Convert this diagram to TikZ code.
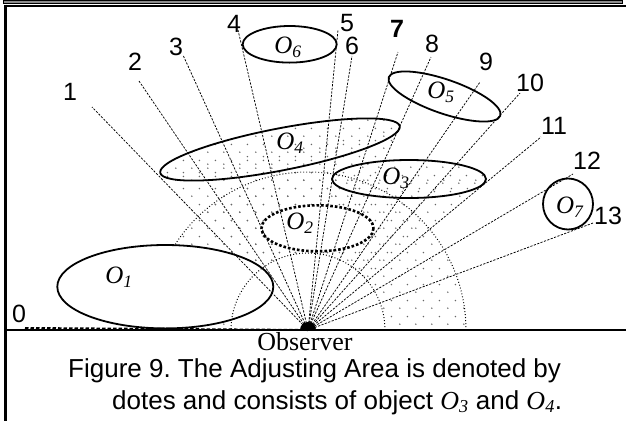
\documentclass[tikz,border=0pt]{standalone}
\usepackage{fontspec}
\setmainfont{Liberation Serif}
\newfontfamily\arialf{Liberation Sans}
\usetikzlibrary{patterns}
\pgfdeclarepatternformonly{adjdots}{\pgfpointorigin}{\pgfqpoint{15.6pt}{15.6pt}}{\pgfqpoint{15.6pt}{15.6pt}}{\pgfpathcircle{\pgfqpoint{3.9pt}{3.9pt}}{0.85pt}\pgfpathcircle{\pgfqpoint{11.7pt}{11.7pt}}{0.85pt}\pgfusepath{fill}}
\newcommand\objl[1]{\textit{O}\textsubscript{\textit{#1}}}
\frenchspacing
\begin{document}
\begin{tikzpicture}[x=1pt,y=-1pt,
  dotfill/.style={pattern=adjdots,pattern color=black!60},
  ray/.style={line width=0.75pt,dash pattern=on 2.2pt off 1.4pt},
  arcline/.style={line width=1pt,dash pattern=on 0.9pt off 2.1pt},
  objline/.style={line width=1.8pt},
  numlab/.style={inner sep=0pt,font=\arialf\fontsize{25}{30}\selectfont},
  objlab/.style={inner sep=0pt,font=\fontsize{25}{30}\selectfont}]
\useasboundingbox (0,0) rectangle (626,421);
\coordinate (obs) at (308,330);
% adjusting area (dots)
\fill[dotfill] (308,330) ++(158,0) arc[start angle=0,end angle=-180,radius=158] -- ++(81,0) arc[start angle=-180,end angle=0,radius=77] -- cycle;
\fill[dotfill] (308,330) -- (160,172) -- (400,127) -- cycle;
\fill[dotfill,rotate around={11:(280,149.5)}] (280,149.5) ellipse[x radius=122,y radius=21];
\fill[dotfill] (308,330) -- (332,179) -- (486,179) -- cycle;
\fill[dotfill] (409,179) ellipse[x radius=77,y radius=19];
% blank parts
\fill[white] (308,330) ++(77,0) arc[start angle=0,end angle=-180,radius=77] -- cycle;
\fill[white] (165.3,286.7) ellipse[x radius=108,y radius=41.7];
\fill[white] (317.5,228.3) ellipse[x radius=56,y radius=23];
% arcs
\draw[arcline] (308,330) ++(77,0) arc[start angle=0,end angle=-180,radius=77];
\draw[arcline] (308,330) ++(158,0) arc[start angle=0,end angle=-147,radius=158];
% ray ends
\coordinate (r1) at (92,107);
\coordinate (r2) at (139,81);
\coordinate (r3) at (183,55);
\coordinate (r4) at (238,30);
\coordinate (r5) at (338,30);
\coordinate (r6) at (352,56);
\coordinate (r7) at (398,52);
\coordinate (r8) at (431,57);
\coordinate (r9) at (480,82);
\coordinate (r10) at (520,93);
\coordinate (r11) at (541,137);
\coordinate (r12) at (573,174);
\coordinate (r13) at (593,223);
\coordinate (r0) at (25,328);
\foreach \i in {1,...,13} \draw[ray] (obs) -- (r\i);
% objects
\draw[objline] (165.3,286.7) ellipse[x radius=108,y radius=41.7];
\draw[line width=2.6pt,dash pattern=on 2.6pt off 2pt] (317.5,228.3) ellipse[x radius=56,y radius=23];
\draw[objline] (409,179) ellipse[x radius=77,y radius=19];
\draw[objline,rotate around={11:(280,149.5)}] (280,149.5) ellipse[x radius=122,y radius=21];
\draw[objline,rotate around={-19:(444.5,96.5)}] (444.5,96.5) ellipse[x radius=59,y radius=17];
\draw[objline] (289.7,44.3) ellipse[x radius=47,y radius=18.3];
\draw[objline] (568,204) ellipse[x radius=25,y radius=25.5];
% frame
\draw[line width=0.7pt,fill=black!45] (3.3,0.35) rectangle (622.7,3);
\draw[line width=2.7pt] (4,6) -- (626,6);
\draw[line width=2.7pt] (5.4,4.7) -- (5.4,421);
\draw[line width=1.4pt] (5,330) -- (626,330);
\draw[line width=2pt,dash pattern=on 3.5pt off 2pt] (r0) -- (obs);
% observer
\fill (obs) ++(8,0) arc[start angle=0,end angle=-180,radius=8] -- cycle;
% number labels
\node[numlab] (l0) at (19,314) {0};
\node[numlab] (l1) at (70,92) {1};
\node[numlab] (l2) at (135,62) {2};
\node[numlab] (l3) at (176,47) {3};
\node[numlab] (l4) at (234,24) {4};
\node[numlab] (l5) at (347,23) {5};
\node[numlab] (l6) at (352,46) {6};
\node[numlab,font=\arialf\bfseries\fontsize{25}{30}\selectfont] (l7) at (397,29) {7};
\node[numlab] (l8) at (432,44) {8};
\node[numlab] (l9) at (486,62) {9};
\node[numlab] (l10) at (530,83) {10};
\node[numlab] (l11) at (554,126) {11};
\node[numlab] (l12) at (587,161) {12};
\node[numlab] (l13) at (608,216) {13};
% object labels
\node[objlab] (o1) at (119,277) {\objl{1}};
\node[objlab] (o2) at (300,223) {\objl{2}};
\node[objlab] (o3) at (396,178) {\objl{3}};
\node[objlab] (o4) at (290,143) {\objl{4}};
\node[objlab] (o5) at (441,92) {\objl{5}};
\node[objlab] (o6) at (288,47) {\objl{6}};
\node[objlab] (o7) at (570,207) {\objl{7}};
% texts
\node[inner sep=0pt,anchor=base,font=\fontsize{26}{30}\selectfont] (observer) at (305,350) {Observer};
\node[inner sep=0pt,anchor=base west,font=\arialf\fontsize{26}{30}\selectfont] (cap1) at (68,377) {Figure 9. The Adjusting Area is denoted by};
\node[inner sep=0pt,anchor=base west,font=\arialf\fontsize{26}{30}\selectfont] (cap2) at (112,409) {dotes and consists of object {\rmfamily\objl{3}} and {\rmfamily\objl{4}}.};
\end{tikzpicture}
\end{document}
